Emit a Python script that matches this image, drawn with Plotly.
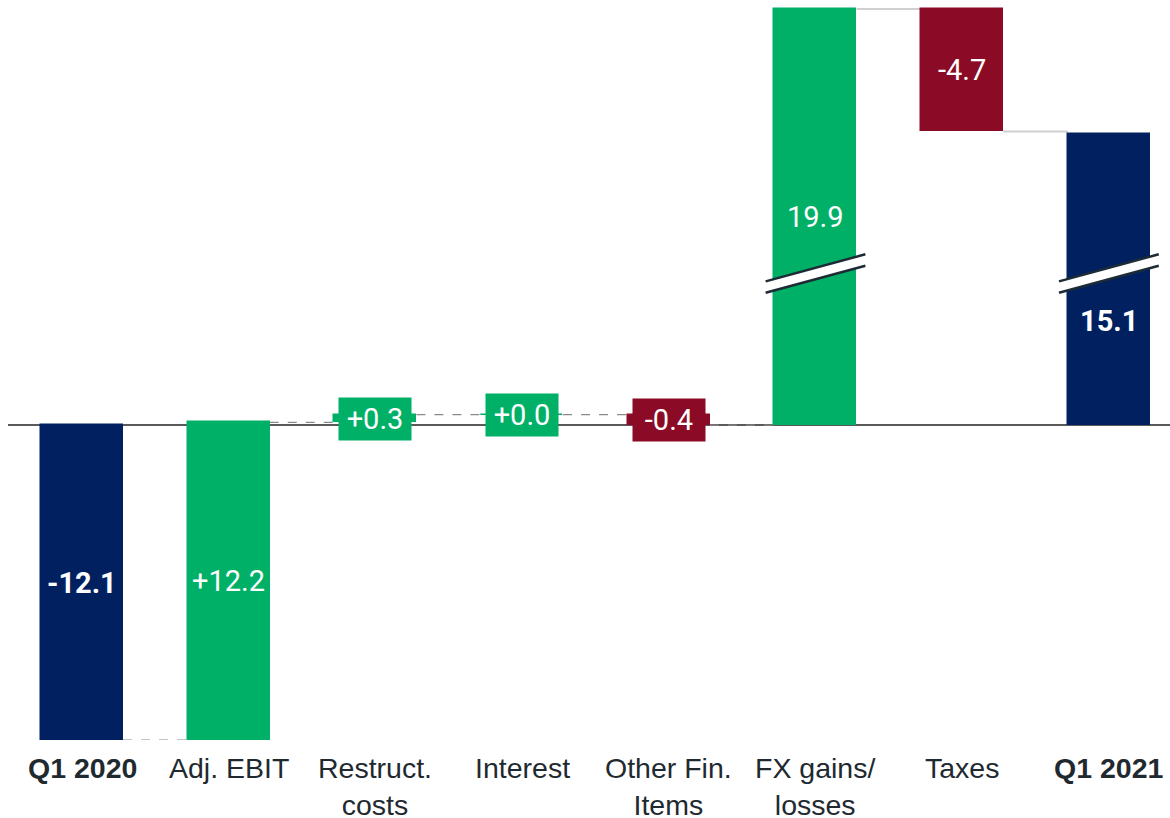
import plotly.graph_objects as go

# Net result bridge, Q1 2020 -> Q1 2021 (EUR m)
categories = ["Q1 2020", "Adj. EBIT", "Restruct.<br>costs", "Interest",
              "Other Fin.<br>Items", "FX gains/<br>losses", "Taxes", "Q1 2021"]
values = [-12.1, 12.2, 0.3, 0.0, -0.4, 19.9, -4.7, 15.1]
measures = ["total", "delta", "delta", "delta", "delta", "delta", "delta", "total"]
value_labels = ["-12.1", "+12.2", "+0.3", "+0.0", "-0.4", "19.9", "-4.7", "15.1"]

NAVY = "#002060"
GREEN = "#00B067"
RED = "#8B0A25"
TEXT = "#1F2A30"

# Broken value axis: values above BREAK are shifted down by GAP
BREAK = 5.82
GAP = 3.92


def disp(v):
    return v if v <= BREAK else v - GAP


# Running levels of the bridge
bases, tops, ends = [], [], []
level = 0.0
for v, m in zip(values, measures):
    if m == "total":
        b, t = 0.0, v
        level = v
    else:
        b, t = level, level + v
        level = level + v
    bases.append(b)
    tops.append(t)
    ends.append(level)

colors = []
for v, m in zip(values, measures):
    if m == "total":
        colors.append(NAVY)
    else:
        colors.append(GREEN if v >= 0 else RED)

BAR_W = 0.559
xs = list(range(len(categories)))
base_d = [disp(min(b, t)) for b, t in zip(bases, tops)]
height_d = [disp(max(b, t)) - disp(min(b, t)) for b, t in zip(bases, tops)]

fig = go.Figure()
fig.add_trace(go.Bar(
    x=xs, y=height_d, base=base_d, width=BAR_W,
    marker=dict(color=colors, line=dict(color=colors, width=1.5)),
    hoverinfo="skip", showlegend=False,
))

shapes = []
# zero line
shapes.append(dict(type="line", xref="paper", x0=0, x1=1, yref="y", y0=0, y1=0,
                   line=dict(color="#5A5A5A", width=2), layer="below"))

# connectors between consecutive bars
for i in range(len(xs) - 1):
    y = disp(ends[i])
    above = ends[i] > BREAK
    shapes.append(dict(
        type="line", xref="x", yref="y",
        x0=xs[i] + BAR_W / 2, x1=xs[i + 1] - BAR_W / 2, y0=y, y1=y,
        line=dict(color="#D0D0D0" if above else "#8A8A8A",
                  width=2 if above else 1.2,
                  dash="solid" if above else "dash"),
        layer="below",
    ))

# axis-break marks on bars that cross the break
hx = 0.34
for i in xs:
    lo, hi = min(bases[i], tops[i]), max(bases[i], tops[i])
    if lo < BREAK < hi:
        y_up, y_dn, tilt = BREAK + 0.22, BREAK - 0.22, 0.52
        path = (f"M {i - hx},{y_dn - tilt} L {i + hx},{y_dn + tilt} "
                f"L {i + hx},{y_up + tilt} L {i - hx},{y_up - tilt} Z")
        shapes.append(dict(type="path", xref="x", yref="y", path=path,
                           fillcolor="white", line=dict(width=0)))
        for yc in (y_up, y_dn):
            shapes.append(dict(type="line", xref="x", yref="y",
                               x0=i - hx, y0=yc - tilt, x1=i + hx, y1=yc + tilt,
                               line=dict(color="#1C2B36", width=2.5)))

annotations = []
label_shift = [0, 0, 0, 0, 0, 0, 0, -41]
for i in xs:
    mid = base_d[i] + height_d[i] / 2
    bold = measures[i] == "total"
    small = abs(values[i]) < 1
    ann = dict(
        x=xs[i], y=mid, xref="x", yref="y", showarrow=False,
        text=f"<b>{value_labels[i]}</b>" if bold else value_labels[i],
        font=dict(family="Roboto, Arial, sans-serif", size=29, color="white"),
        xanchor="center", yanchor="middle", yshift=label_shift[i],
    )
    if small:
        ann.update(bgcolor=colors[i], width=70, height=40)
    annotations.append(ann)

# category labels
for i, c in enumerate(categories):
    bold = measures[i] == "total"
    annotations.append(dict(
        x=xs[i], y=0, xref="x", yref="paper", showarrow=False,
        text=f"<b>{c}</b>" if bold else c,
        font=dict(family="Liberation Sans, Arial, sans-serif", size=28.5, color=TEXT),
        xanchor="center", yanchor="top", yshift=-10,
    ))

fig.update_layout(
    width=1170, height=818,
    margin=dict(l=8, r=0, t=0, b=78),
    paper_bgcolor="white", plot_bgcolor="white",
    xaxis=dict(range=[-0.5045, 7.4166], visible=False, fixedrange=True),
    yaxis=dict(range=[-12.1, 16.33], visible=False, fixedrange=True),
    shapes=shapes, annotations=annotations,
    bargap=0, showlegend=False,
)

fig.write_html("out.html")
